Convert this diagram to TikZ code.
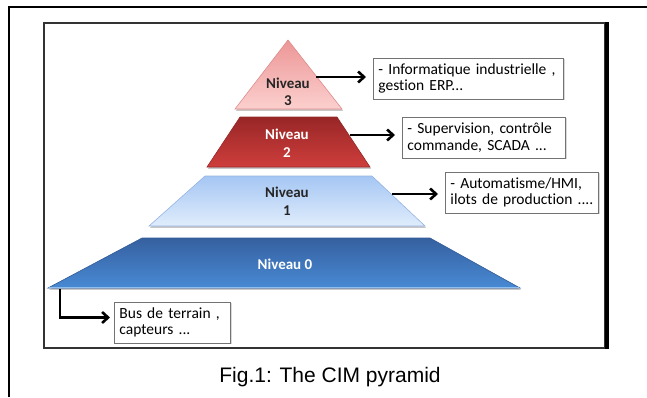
\documentclass[tikz,border=0pt]{standalone}
\usepackage{fontspec}
\setmainfont{Carlito}[Ligatures=NoCommon]
\newfontfamily\captionfont{Liberation Sans}
\usetikzlibrary{positioning, arrows.meta, calc, shadows}
\definecolor{pinktop}{RGB}{236, 150, 150}
\definecolor{pinkbot}{RGB}{251, 208, 206}
\definecolor{pinkedge}{RGB}{222, 140, 140}
\definecolor{redtop}{RGB}{152, 38, 38}
\definecolor{redbot}{RGB}{206, 62, 60}
\definecolor{rededge}{RGB}{150, 40, 40}
\definecolor{paletop}{RGB}{165, 198, 243}
\definecolor{palebot}{RGB}{224, 237, 252}
\definecolor{paleedge}{RGB}{150, 180, 225}
\definecolor{bluetop}{RGB}{54, 96, 160}
\definecolor{bluebot}{RGB}{72, 138, 212}
\definecolor{blueedge}{RGB}{50, 90, 150}
\definecolor{bluelight}{RGB}{140, 190, 240}

\begin{document}
\begin{tikzpicture}[
    x=1pt, y=-1pt, % pixel coordinates, y going down
    >={Straight Barb[length=6pt, width=11pt]}, % arrow tip style
    level/.style={ % pyramid slice, takes edge colour
        draw=#1,
        line width=0.6pt
    },
    levelshadow/.style={fill=black!22, xshift=1pt, yshift=-1.8pt},
    levellabel/.style={
        font=\fontsize{15}{17.5}\selectfont\bfseries,
        align=center,
        inner sep=0pt
    },
    infobox/.style={ % text boxes on the right
        rectangle,
        draw=black!55,
        line width=0.9pt,
        fill=white,
        anchor=west,
        minimum height=41pt,
        inner xsep=5pt,
        align=left,
        font=\fontsize{15.5}{16.5}\selectfont,
        drop shadow={shadow xshift=1.2pt, shadow yshift=-1.2pt, opacity=0.3}
    },
    arrow/.style={
        ->,
        line width=2.6pt,
        shorten >=7pt
    }
]
\useasboundingbox (0,0) rectangle (647,397);

% page frame and figure frame
\draw[line width=1.3pt] (9,397) -- (9,7) -- (647,7);
\draw[line width=1.6pt, black!80] (44,23) rectangle (605,348);
\fill[black] (605,22.2) rectangle (609,348.8);

% Niveau 3
\fill[levelshadow] (288,40) -- (342,109) -- (235,109) -- cycle;
\shadedraw[level=pinkedge, top color=pinktop, bottom color=pinkbot]
    (288,40) -- (342,109) -- (235,109) -- cycle;
\node[levellabel, text=black!85] (lvl3) at (288,92) {Niveau\\3};

% Niveau 2
\fill[levelshadow] (240,117) -- (337,117) -- (370,167) -- (207,167) -- cycle;
\shadedraw[level=rededge, top color=redtop, bottom color=redbot]
    (240,117) -- (337,117) -- (370,167) -- (207,167) -- cycle;
\node[levellabel, text=white] (lvl2) at (287,143) {Niveau\\2};

% Niveau 1
\fill[levelshadow] (205,176) -- (372,176) -- (425,226) -- (149,226) -- cycle;
\shadedraw[level=paleedge, top color=paletop, bottom color=palebot]
    (205,176) -- (372,176) -- (425,226) -- (149,226) -- cycle;
\node[levellabel, text=black!85] (lvl1) at (287,201) {Niveau\\1};

% Niveau 0
\fill[levelshadow] (142,238) -- (430,238) -- (520,288) -- (48,288) -- cycle;
\shadedraw[level=blueedge, top color=bluetop, bottom color=bluebot]
    (142,238) -- (430,238) -- (520,288) -- (48,288) -- cycle;
\draw[bluelight, line width=1.2pt] (49,287.5) -- (519,287.5);
\node[levellabel, text=white] (lvl0) at (285,264) {Niveau 0};

% start points of the arrows on the slices
\coordinate (l3e) at (316,77);
\coordinate (l2e) at (350,135);
\coordinate (l1e) at (392,194);
\coordinate (l0s) at (60,289);

% text boxes
\node[infobox, text width=180pt] (box3) at (373,78.5)
    {- Informatique industrielle ,\\gestion ERP...};
\node[infobox, text width=153pt] (box2) at (402,137.5)
    {- Supervision, contrôle\\commande, SCADA ...};
\node[infobox, text width=143pt] (box1) at (445,192.5)
    {- Automatisme/HMI,\\ilots de production ....};
\node[infobox, text width=106pt] (box0) at (114,322.5)
    {Bus de terrain ,\\capteurs ...};

% arrows
\draw[arrow] (l3e) -- (l3e -| box3.west);
\draw[arrow] (l2e) -- (l2e -| box2.west);
\draw[arrow] (l1e) -- (l1e -| box1.west);
\draw[arrow, shorten >=4pt] (l0s) |- ([yshift=5pt]box0.west);

% caption
\node[font=\captionfont\fontsize{21}{24}\selectfont, anchor=base] (caption) at (330,382)
    {Fig.1: The CIM pyramid};

\end{tikzpicture}
\end{document}
